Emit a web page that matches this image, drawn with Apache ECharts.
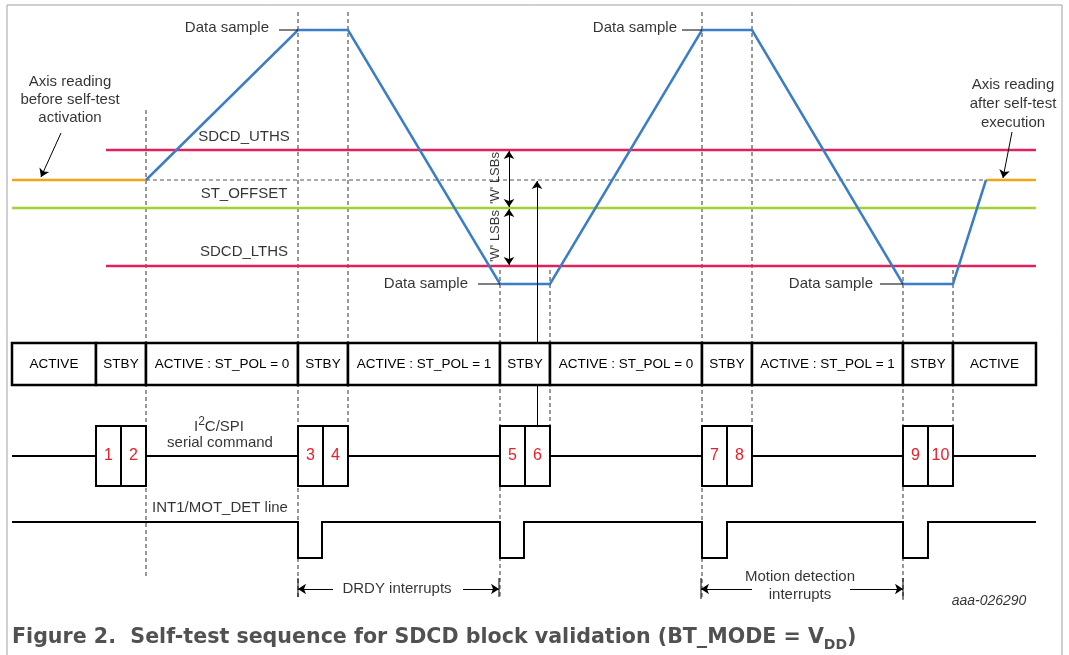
<!DOCTYPE html>
<html>
<head>
<meta charset="utf-8">
<script src="https://cdn.jsdelivr.net/npm/echarts@6/dist/echarts.min.js"></script>
<style>
  html, body { margin: 0; padding: 0; background: #fff; }
  #chart { width: 1069px; height: 655px; }
</style>
</head>
<body>
<div id="chart"></div>
<script>
  const FONT = '"Liberation Sans", Arial, sans-serif';

  // state row
  const phaseEdges = [12, 96, 146, 298, 348, 500, 550, 702, 752, 903, 953, 1036];
  const phaseNames = ['ACTIVE', 'STBY', 'ACTIVE : ST_POL = 0', 'STBY', 'ACTIVE : ST_POL = 1', 'STBY',
    'ACTIVE : ST_POL = 0', 'STBY', 'ACTIVE : ST_POL = 1', 'STBY', 'ACTIVE'];
  const phaseRow = [343, 385];

  // serial commands
  const cmdEdges = [[96, 121, 146], [298, 323, 348], [500, 525, 550], [702, 727, 752], [903, 928, 953]];
  const cmdNumbers = ['1', '2', '3', '4', '5', '6', '7', '8', '9', '10'];
  const cmdRow = [426, 486];
  const busY = 456;

  // axis reading waveform
  const waveX = [146, 298, 348, 500, 550, 702, 752, 903, 953, 986];
  const waveY = [180, 30, 30, 284, 284, 30, 30, 284, 284, 180];
  const restY = 180, uthsY = 150, offsetY = 208, lthsY = 266;

  // INT1 line
  const intHigh = 522, intLow = 558;
  const pulseStart = [298, 500, 702, 903];
  const pulseEnd = [322, 524, 727, 928];

  // dashed markers [x, top, bottom]
  const markers = [[146, 110, 578], [298, 12, 597], [348, 12, 426], [500, 270, 597], [550, 270, 426],
    [702, 12, 600], [752, 12, 426], [903, 270, 600], [953, 270, 426]];

  const notes = [
    [269, 28, 'Data sample', 'right'], [677, 28, 'Data sample', 'right'],
    [468, 284, 'Data sample', 'right'], [873, 284, 'Data sample', 'right'],
    [70, 82, 'Axis reading'], [70, 100, 'before self-test'], [70, 118, 'activation'],
    [1013, 85, 'Axis reading'], [1013, 104, 'after self-test'], [1013, 123, 'execution'],
    [244, 137, 'SDCD_UTHS'], [244, 194, 'ST_OFFSET'], [244, 252, 'SDCD_LTHS'],
    [220, 443, 'serial command'], [220, 508, 'INT1/MOT_DET line'],
    [397, 589, 'DRDY interrupts'], [800, 577, 'Motion detection'], [800, 595, 'interrupts']
  ];

  const chart = echarts.init(document.getElementById('chart'));

  const seg = (a, b) => ({ coords: [a, b] });

  const wave = waveX.map((x, i) => [x, waveY[i]]);
  const intLine = [[phaseEdges[0], intHigh]];
  pulseStart.forEach((x, i) => {
    intLine.push([x, intHigh], [x, intLow], [pulseEnd[i], intLow], [pulseEnd[i], intHigh]);
  });
  intLine.push([phaseEdges[phaseEdges.length - 1], intHigh]);

  const phaseBoxes = phaseNames.map((n, i) => [phaseEdges[i], phaseEdges[i + 1], phaseRow[0], phaseRow[1]]);
  const cmdBoxes = [];
  cmdEdges.forEach(e => {
    cmdBoxes.push([e[0], e[1], cmdRow[0], cmdRow[1]], [e[1], e[2], cmdRow[0], cmdRow[1]]);
  });

  function boxRender(names, lw, color, size) {
    return function (params, api) {
      const p0 = api.coord([api.value(0), api.value(2)]);
      const p1 = api.coord([api.value(1), api.value(3)]);
      return {
        type: 'rect',
        shape: { x: p0[0], y: p0[1], width: p1[0] - p0[0], height: p1[1] - p0[1] },
        style: { fill: '#fff', stroke: '#000', lineWidth: lw },
        textContent: { style: { text: names[params.dataIndex], fill: color, font: size + 'px ' + FONT } },
        textConfig: { position: 'inside' }
      };
    };
  }

  const lineSeries = (data, color, width, z, extra) => Object.assign({
    type: 'lines', coordinateSystem: 'cartesian2d', polyline: true, silent: true, z: z,
    data: data, lineStyle: { color: color, width: width, opacity: 1 }
  }, extra || {});

  const arrowSeries = (data, symbol, z) => ({
    type: 'lines', coordinateSystem: 'cartesian2d', silent: true, z: z,
    symbol: symbol, symbolSize: 8,
    data: data, lineStyle: { color: '#000', width: 1, opacity: 1 }
  });

  const textItem = (n) => ({
    value: [n[0], n[1]],
    label: { formatter: n[2], align: n[3] || 'center' }
  });

  chart.setOption({
    animation: false,
    grid: { left: 0, right: 0, top: 0, bottom: 0 },
    xAxis: { type: 'value', min: 0, max: 1069, show: false },
    yAxis: { type: 'value', min: 0, max: 655, inverse: true, show: false },
    series: [
      // figure frame
      lineSeries([{ coords: [[7, 660], [7, 5], [1062, 5], [1062, 660]] }], '#a0a0a0', 1, 1),
      // dashed timing markers
      lineSeries(markers.map(m => seg([m[0], m[1]], [m[0], m[2]])), '#333', 1, 2,
        { lineStyle: { color: '#333', width: 1, type: [4, 3], opacity: 1 } }),
      lineSeries([seg([waveX[0], restY], [waveX[waveX.length - 1], restY])], '#555', 1, 2,
        { lineStyle: { color: '#555', width: 1, type: [4, 3], opacity: 1 } }),
      // thresholds
      lineSeries([seg([106, uthsY], [1036, uthsY]), seg([106, lthsY], [1036, lthsY])], '#e2215c', 2.5, 3),
      lineSeries([seg([12, offsetY], [1036, offsetY])], '#a5cf36', 2.5, 3),
      lineSeries([seg([12, restY], [waveX[0], restY]), seg([waveX[waveX.length - 1], restY], [1036, restY])], '#f5a21b', 2.5, 4),
      // axis reading
      lineSeries([{ coords: wave }], '#3c7dc8', 2.5, 5),
      // leaders
      lineSeries([seg([279, 30], [298, 30]), seg([682, 30], [702, 30]), seg([478, 284], [500, 284]), seg([880, 284], [903, 284]),
        seg([298, 578], [298, 597]), seg([499, 578], [499, 597]), seg([701, 578], [701, 599]), seg([903, 578], [903, 599])], '#000', 1, 6),
      arrowSeries([seg([61, 133], [41, 177]), seg([1012, 132], [1003, 178]), seg([537, cmdRow[0]], [537, 181]),
        seg([333, 589], [298, 589]), seg([463, 589], [499, 589]), seg([752, 589], [701, 589]), seg([850, 589], [903, 589])],
        ['none', 'arrow'], 6),
      arrowSeries([seg([509, uthsY + 1], [509, offsetY - 1]), seg([509, offsetY + 1], [509, lthsY - 1])], ['arrow', 'arrow'], 6),
      // bus and INT1 line
      lineSeries([seg([phaseEdges[0], busY], [phaseEdges[phaseEdges.length - 1], busY])], '#000', 2, 6),
      lineSeries([{ coords: intLine }], '#000', 2, 6),
      // boxes
      {
        type: 'custom', silent: true, z: 8, data: phaseBoxes,
        renderItem: boxRender(phaseNames, 2.5, '#000', 13.5)
      },
      {
        type: 'custom', silent: true, z: 8, data: cmdBoxes,
        renderItem: boxRender(cmdNumbers, 2, '#e8202a', 16)
      },
      // texts
      {
        type: 'scatter', silent: true, z: 10, symbolSize: 1, itemStyle: { color: 'transparent' },
        label: { show: true, position: 'inside', color: '#000', fontSize: 15, fontFamily: FONT, verticalAlign: 'middle' },
        data: notes.map(textItem).concat([
          { value: [219, 425], label: { formatter: '{n|I}{s|2}{n|C/SPI}', rich: {
            n: { fontSize: 15, fontFamily: FONT, color: '#000', lineHeight: 18, verticalAlign: 'bottom' },
            s: { fontSize: 12, fontFamily: FONT, color: '#000', lineHeight: 10, verticalAlign: 'top' } } } },
          { value: [495, 178], label: { formatter: "'W' LSBs", rotate: 90, fontSize: 13 } },
          { value: [495, 236], label: { formatter: "'W' LSBs", rotate: 90, fontSize: 13 } },
          { value: [989, 601], label: { formatter: 'aaa-026290', fontSize: 14, fontStyle: 'italic' } },
          { value: [12, 624], label: { align: 'left', verticalAlign: 'top',
            formatter: '{b|Figure 2.  Self-test sequence for SDCD block validation (BT_MODE = V}{s|DD}{b|)}',
            rich: {
              b: { fontSize: 20.6, fontWeight: 'bold', fontFamily: '"DejaVu Sans", sans-serif', color: '#262626', lineHeight: 28, verticalAlign: 'middle' },
              s: { fontSize: 14, fontWeight: 'bold', fontFamily: '"DejaVu Sans", sans-serif', color: '#262626', lineHeight: 28, verticalAlign: 'bottom' }
            } } }
        ])
      }
    ]
  });
</script>
</body>
</html>
